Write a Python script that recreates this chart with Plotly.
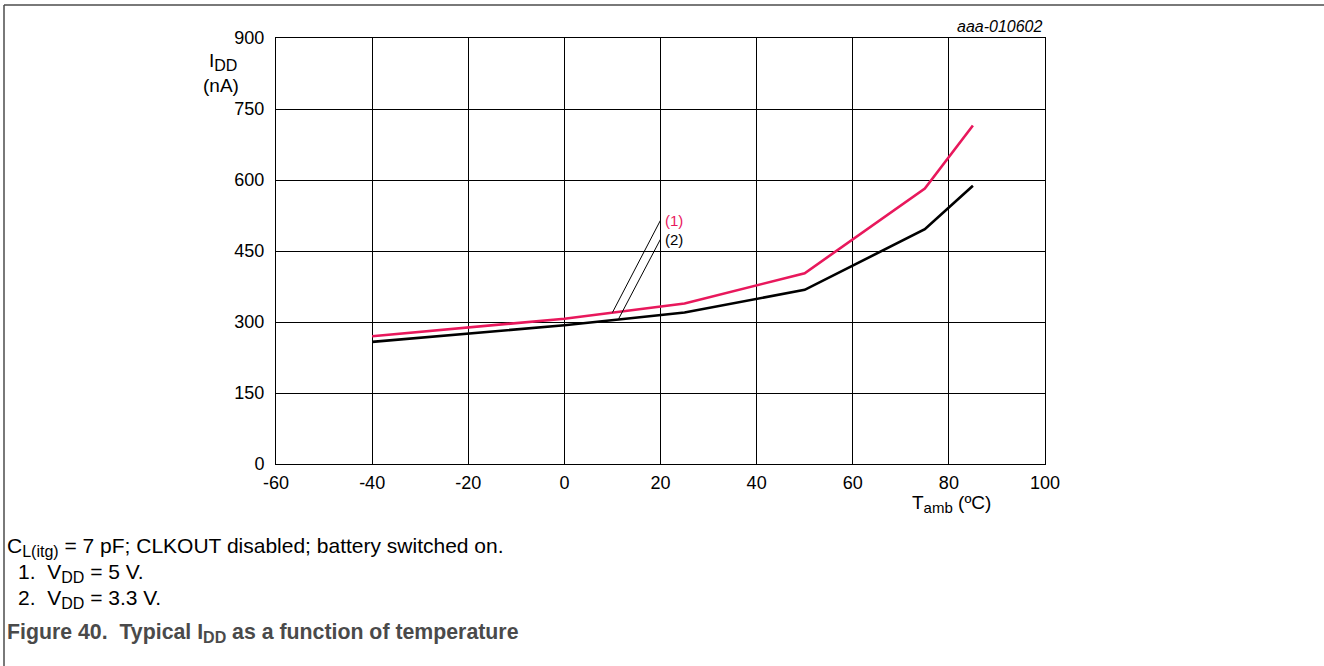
import plotly.graph_objects as go

# ---- data ----
temp_c = [-40, -20, 0, 25, 50, 75, 85]
idd_vdd_5v = [270, 288, 307, 339, 403, 582, 715]      # (1) VDD = 5 V
idd_vdd_3v3 = [258, 275, 293, 320, 368, 496, 588]     # (2) VDD = 3.3 V
x_ticks = [-60, -40, -20, 0, 20, 40, 60, 80, 100]
y_ticks = [0, 150, 300, 450, 600, 750, 900]

# leader lines for curve labels: (x0, y0, x1, y1)
leader_1 = (10.0, 320, 20.0, 515)
leader_2 = (11.3, 307, 20.0, 475)

RED = "#E8185C"
FONT = "Liberation Sans, Arial, sans-serif"

# plot area in pixels
W, H = 1324, 666
L, R, T, B = 276, 1045, 38, 464


def px(x):
    return (x - L) / (R - L)


def py(y):
    return (B - y) / (B - T)


def sub(s, size):
    return f"<sub><span style='font-size:{size}px'>{s}</span></sub>"


fig = go.Figure()
fig.add_trace(go.Scatter(x=temp_c, y=idd_vdd_5v, mode="lines",
                         line=dict(color=RED, width=2.6), name="(1)"))
fig.add_trace(go.Scatter(x=temp_c, y=idd_vdd_3v3, mode="lines",
                         line=dict(color="black", width=2.6), name="(2)"))

shapes = []
for (x0, y0, x1, y1) in (leader_1, leader_2):
    shapes.append(dict(type="line", xref="x", yref="y", x0=x0, y0=y0, x1=x1, y1=y1,
                       line=dict(color="black", width=1)))
# outer frame (top and left edge)
shapes.append(dict(type="line", xref="paper", yref="paper", x0=px(4), y0=py(5),
                   x1=px(1324), y1=py(5), line=dict(color="#4d4d4d", width=1.5)))
shapes.append(dict(type="line", xref="paper", yref="paper", x0=px(4), y0=py(5),
                   x1=px(4), y1=py(666), line=dict(color="#4d4d4d", width=1.5)))

annotations = [
    dict(x=leader_1[2], y=leader_1[3], xref="x", yref="y", text="(1)", showarrow=False,
         xanchor="left", yanchor="middle", xshift=2, font=dict(color=RED, size=15, family=FONT)),
    dict(x=leader_2[2], y=leader_2[3], xref="x", yref="y", text="(2)", showarrow=False,
         xanchor="left", yanchor="middle", xshift=2, font=dict(color="black", size=15, family=FONT)),
    dict(x=px(1045), y=py(27), xref="paper", yref="paper", text="<i>aaa-010602</i>",
         showarrow=False, xanchor="right", yanchor="middle",
         font=dict(size=16, family=FONT, color="black")),
    dict(x=px(239), y=py(62), xref="paper", yref="paper", text="I" + sub("DD", 16),
         showarrow=False, xanchor="right", yanchor="middle",
         font=dict(size=19, family=FONT, color="black")),
    dict(x=px(241), y=py(85), xref="paper", yref="paper", text="(nA)",
         showarrow=False, xanchor="right", yanchor="middle",
         font=dict(size=19, family=FONT, color="black")),
    dict(x=px(951), y=py(504), xref="paper", yref="paper", text="T" + sub("amb", 15) + " (ºC)",
         showarrow=False, xanchor="center", yanchor="middle",
         font=dict(size=19, family=FONT, color="black")),
    dict(x=px(5), y=py(547), xref="paper", yref="paper",
         text="C" + sub("L(itg)", 16) + " = 7 pF; CLKOUT disabled; battery switched on.",
         showarrow=False, xanchor="left", yanchor="middle",
         font=dict(size=21, family=FONT, color="black")),
    dict(x=px(16), y=py(573), xref="paper", yref="paper",
         text="1.  V" + sub("DD", 16) + " = 5 V.",
         showarrow=False, xanchor="left", yanchor="middle",
         font=dict(size=21, family=FONT, color="black")),
    dict(x=px(16), y=py(599), xref="paper", yref="paper",
         text="2.  V" + sub("DD", 16) + " = 3.3 V.",
         showarrow=False, xanchor="left", yanchor="middle",
         font=dict(size=21, family=FONT, color="black")),
    dict(x=px(5), y=py(633), xref="paper", yref="paper",
         text="<b>Figure 40.  Typical I" + sub("DD", 16) + " as a function of temperature</b>",
         showarrow=False, xanchor="left", yanchor="middle",
         font=dict(size=21.3, family=FONT, color="#4a4a4a")),
]

fig.update_layout(
    width=W, height=H,
    margin=dict(l=L, r=W - R, t=T, b=H - B, pad=0),
    plot_bgcolor="white", paper_bgcolor="white",
    showlegend=False,
    font=dict(family=FONT, size=18, color="black"),
    shapes=shapes,
    annotations=annotations,
    xaxis=dict(range=[-60, 100], tickvals=x_ticks, ticktext=[str(v) for v in x_ticks],
               showgrid=True, gridcolor="black", gridwidth=1,
               showline=True, linecolor="black", linewidth=1, mirror=True,
               zeroline=False, ticks="", ticklabelstandoff=2,
               tickfont=dict(size=18, family=FONT, color="black")),
    yaxis=dict(range=[0, 900], tickvals=y_ticks, ticktext=[str(v) for v in y_ticks],
               showgrid=True, gridcolor="black", gridwidth=1,
               showline=True, linecolor="black", linewidth=1, mirror=True,
               zeroline=False, ticks="", ticklabelstandoff=7,
               tickfont=dict(size=18, family=FONT, color="black")),
)

fig.write_html("out.html", config={"displayModeBar": False},
               post_script="document.body.style.margin='0';document.body.style.overflow='hidden';")
